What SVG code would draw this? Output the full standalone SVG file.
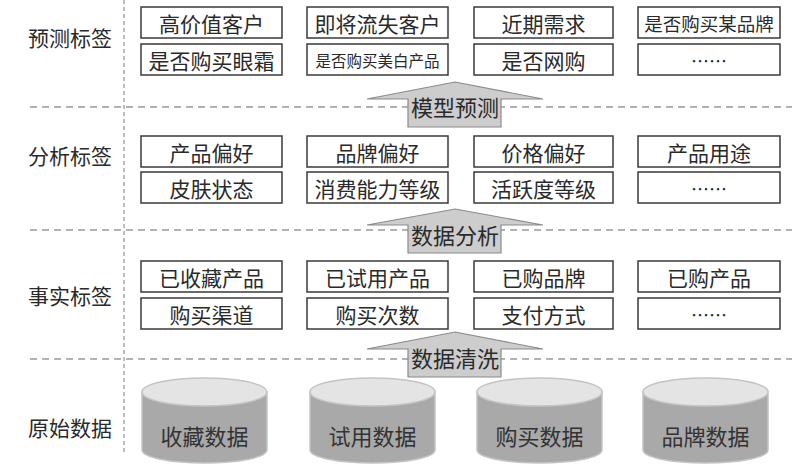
<svg xmlns="http://www.w3.org/2000/svg" width="800" height="475" viewBox="0 0 800 475">
  <style>
    text { font-family: "Noto Sans CJK SC", "DejaVu Sans", sans-serif; fill: #2a2a2a; text-anchor: middle; dominant-baseline: central; }
    .lbl { font-size: 21px; }
    .tag rect { fill: #ffffff; stroke: #3a3a3a; stroke-width: 1.5; }
    .tag text { font-size: 21px; }
    .tag text.more { font-size: 18px; }
    .sep { stroke: #9a9a9a; stroke-width: 1.5; stroke-dasharray: 7 5; fill: none; }
    .vsep { stroke: #a8a8a8; stroke-width: 1.5; stroke-dasharray: 4 3; fill: none; }
    .flow path { fill: #cdcdcd; stroke: #8a8a8a; stroke-width: 1.2; }
    .flow text { font-size: 22px; }
    .db .body { fill: #a9a9a9; stroke: #c4c4c4; stroke-width: 1.5; }
    .db .top { fill: #e4e4e4; stroke: #c4c4c4; stroke-width: 1.5; }
    .db text { font-size: 22px; fill: #333333; }
  </style>

  <!-- layer separators -->
  <g id="separators">
    <line class="vsep" x1="124" y1="0" x2="124" y2="452"/>
    <line class="sep" x1="30" y1="107" x2="792" y2="107"/>
    <line class="sep" x1="30" y1="230" x2="792" y2="230"/>
    <line class="sep" x1="30" y1="359" x2="792" y2="359"/>
  </g>

  <!-- layer names -->
  <g id="layer-labels">
    <text class="lbl" x="70" y="37">预测标签</text>
    <text class="lbl" x="70" y="155">分析标签</text>
    <text class="lbl" x="70" y="295">事实标签</text>
    <text class="lbl" x="70" y="427">原始数据</text>
  </g>

  <!-- prediction tags -->
  <g id="predict-tags" class="tag">
    <g id="p1"><rect x="141" y="7" width="141" height="31"/><text x="211.5" y="22.5">高价值客户</text></g>
    <g id="p2"><rect x="307" y="7" width="141" height="31"/><text x="377.5" y="22.5">即将流失客户</text></g>
    <g id="p3"><rect x="474" y="7" width="139" height="31"/><text x="543.5" y="22.5">近期需求</text></g>
    <g id="p4"><rect x="638" y="7" width="142" height="31"/><text x="709" y="22.5" style="font-size:18.5px">是否购买某品牌</text></g>
    <g id="p5"><rect x="141" y="44" width="141" height="31"/><text x="211.5" y="59.5">是否购买眼霜</text></g>
    <g id="p6"><rect x="307" y="44" width="141" height="31"/><text x="377.5" y="59.5" style="font-size:15.5px">是否购买美白产品</text></g>
    <g id="p7"><rect x="474" y="44" width="139" height="31"/><text x="543.5" y="59.5">是否网购</text></g>
    <g id="p8"><rect x="638" y="44" width="142" height="31"/><text class="more" x="709" y="59.5">……</text></g>
  </g>

  <!-- analysis tags -->
  <g id="analysis-tags" class="tag">
    <g id="a1"><rect x="141" y="136" width="141" height="31"/><text x="211.5" y="151.5">产品偏好</text></g>
    <g id="a2"><rect x="307" y="136" width="141" height="31"/><text x="377.5" y="151.5">品牌偏好</text></g>
    <g id="a3"><rect x="474" y="136" width="139" height="31"/><text x="543.5" y="151.5">价格偏好</text></g>
    <g id="a4"><rect x="638" y="136" width="142" height="31"/><text x="709" y="151.5">产品用途</text></g>
    <g id="a5"><rect x="141" y="172" width="141" height="31"/><text x="211.5" y="187.5">皮肤状态</text></g>
    <g id="a6"><rect x="307" y="172" width="141" height="31"/><text x="377.5" y="187.5">消费能力等级</text></g>
    <g id="a7"><rect x="474" y="172" width="139" height="31"/><text x="543.5" y="187.5">活跃度等级</text></g>
    <g id="a8"><rect x="638" y="172" width="142" height="31"/><text class="more" x="709" y="187.5">……</text></g>
  </g>

  <!-- fact tags -->
  <g id="fact-tags" class="tag">
    <g id="f1"><rect x="141" y="261" width="141" height="31"/><text x="211.5" y="276.5">已收藏产品</text></g>
    <g id="f2"><rect x="307" y="261" width="141" height="31"/><text x="377.5" y="276.5">已试用产品</text></g>
    <g id="f3"><rect x="474" y="261" width="139" height="31"/><text x="543.5" y="276.5">已购品牌</text></g>
    <g id="f4"><rect x="638" y="261" width="142" height="31"/><text x="709" y="276.5">已购产品</text></g>
    <g id="f5"><rect x="141" y="298" width="141" height="31"/><text x="211.5" y="313.5">购买渠道</text></g>
    <g id="f6"><rect x="307" y="298" width="141" height="31"/><text x="377.5" y="313.5">购买次数</text></g>
    <g id="f7"><rect x="474" y="298" width="139" height="31"/><text x="543.5" y="313.5">支付方式</text></g>
    <g id="f8"><rect x="638" y="298" width="142" height="31"/><text class="more" x="709" y="313.5">……</text></g>
  </g>

  <!-- raw data stores -->
  <g id="raw-data" class="db">
    <g id="d1">
      <path class="body" d="M142,392 L142,450 A62.5,13 0 0 0 267,450 L267,392 Z"/>
      <ellipse class="top" cx="204.5" cy="392" rx="62.5" ry="14"/>
      <text x="204.5" y="435">收藏数据</text>
    </g>
    <g id="d2">
      <path class="body" d="M310,392 L310,450 A62.5,13 0 0 0 435,450 L435,392 Z"/>
      <ellipse class="top" cx="372.5" cy="392" rx="62.5" ry="14"/>
      <text x="372.5" y="435">试用数据</text>
    </g>
    <g id="d3">
      <path class="body" d="M477,392 L477,450 A62.5,13 0 0 0 602,450 L602,392 Z"/>
      <ellipse class="top" cx="539.5" cy="392" rx="62.5" ry="14"/>
      <text x="539.5" y="435">购买数据</text>
    </g>
    <g id="d4">
      <path class="body" d="M643,392 L643,450 A62.5,13 0 0 0 768,450 L768,392 Z"/>
      <ellipse class="top" cx="705.5" cy="392" rx="62.5" ry="14"/>
      <text x="705.5" y="435">品牌数据</text>
    </g>
  </g>

  <!-- process arrows between layers -->
  <g id="connectors" class="flow">
    <g id="clean">
      <path d="M455,332 L543,349 L501,349 L501,377 L408,377 L408,349 L367,349 Z"/>
      <text x="455" y="357">数据清洗</text>
    </g>
    <g id="analyse">
      <path d="M455,209 L543,225 L501,225 L501,253 L408,253 L408,225 L367,225 Z"/>
      <text x="455" y="234">数据分析</text>
    </g>
    <g id="predict">
      <path d="M455,82 L543,99 L501,99 L501,127 L408,127 L408,99 L367,99 Z"/>
      <text x="455" y="106">模型预测</text>
    </g>
  </g>
</svg>
